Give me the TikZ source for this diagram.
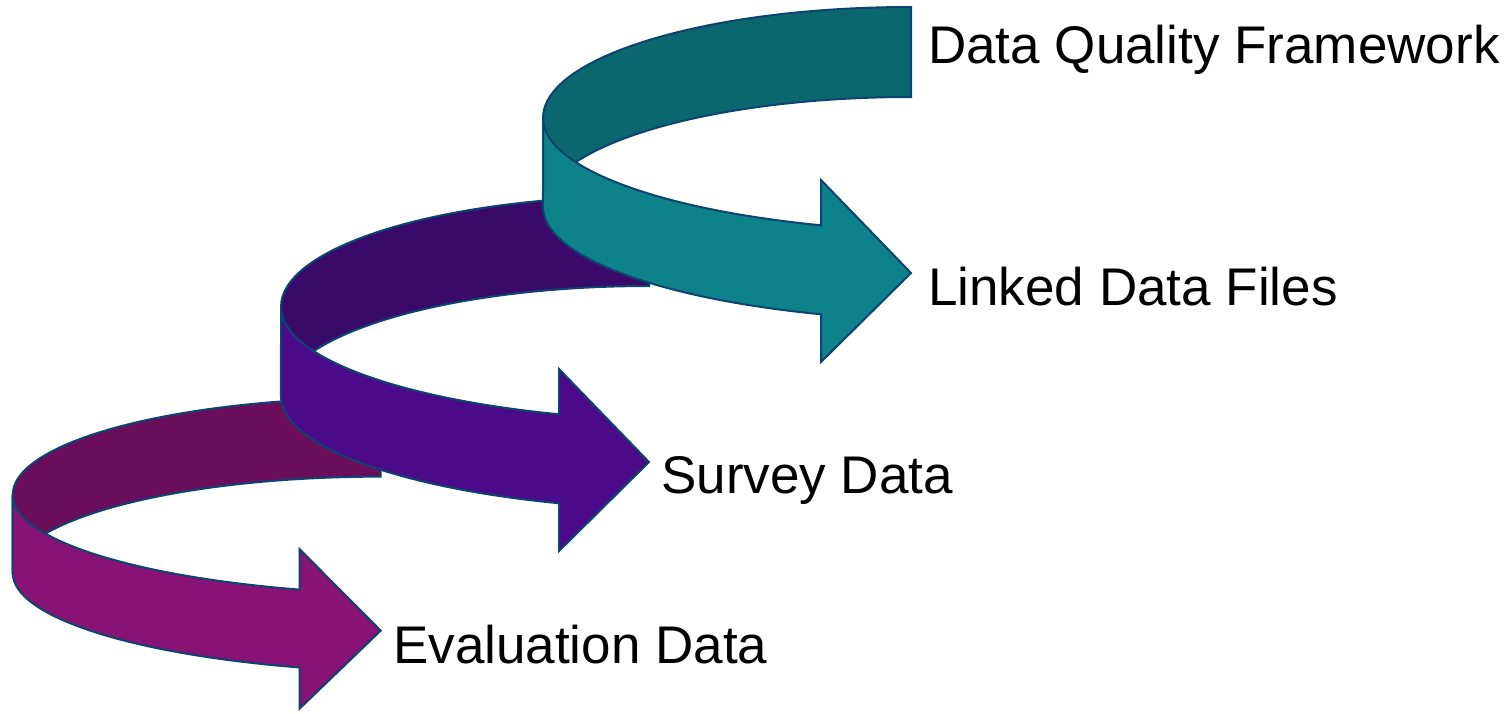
\documentclass[tikz,border=0pt]{standalone}
\usepackage{fontspec}
\setmainfont{Liberation Sans}
\definecolor{edgecol}{HTML}{0D4370}
\definecolor{tealB}{HTML}{0B676E}
\definecolor{tealF}{HTML}{0E828B}
\definecolor{purpB}{HTML}{3A0A6A}
\definecolor{purpF}{HTML}{4B0A8A}
\definecolor{magB}{HTML}{6A0E5C}
\definecolor{magF}{HTML}{891275}
\tikzset{
  band/.style={draw=edgecol, line width=2pt, line join=miter},
  lbl/.style={anchor=base west, inner sep=0pt, text=black, font=\fontsize{53}{60}\selectfont}
}
% #1 back colour, #2 front colour, #3 x of arrowhead base
\newcommand\spiralarrow[3]{%
  \pgfmathsetmacro\phiA{360-acos((#3-420)/420)}%
  \pgfmathsetmacro\shy{114*sin(\phiA)}%
  \filldraw[band, fill=#1] (0,0) arc[start angle=180, end angle=90, x radius=368, y radius=111]
    -- (368,21) arc[start angle=90, end angle=180, x radius=368, y radius=111] -- cycle;
  \filldraw[band, fill=#2] (0,0) arc[start angle=180, end angle=\phiA, x radius=420, y radius=114]
    -- (#3,-62) -- (368,-155) -- (#3,-244) -- (#3,\shy-89)
    arc[start angle=\phiA, end angle=180, x radius=420, y radius=114] -- cycle;
}
\begin{document}
\begin{tikzpicture}[x=1pt, y=1pt]
\useasboundingbox (0,-713) rectangle (1512,0);
\begin{scope}[shift={(12.7,-495)}, yscale=0.875]
  \spiralarrow{magB}{magF}{287}
\end{scope}
\begin{scope}[shift={(281,-307)}]
  \spiralarrow{purpB}{purpF}{278}
\end{scope}
\begin{scope}[shift={(543,-118)}]
  \spiralarrow{tealB}{tealF}{278}
\end{scope}
\node[lbl] (dqf) at (928,-63) {Data Quality Framework};
\node[lbl] (ldf) at (928,-305) {Linked Data Files};
\node[lbl] (sd) at (661,-493) {Survey Data};
\node[lbl] (ed) at (393,-663) {Evaluation Data};
\end{tikzpicture}
\end{document}
